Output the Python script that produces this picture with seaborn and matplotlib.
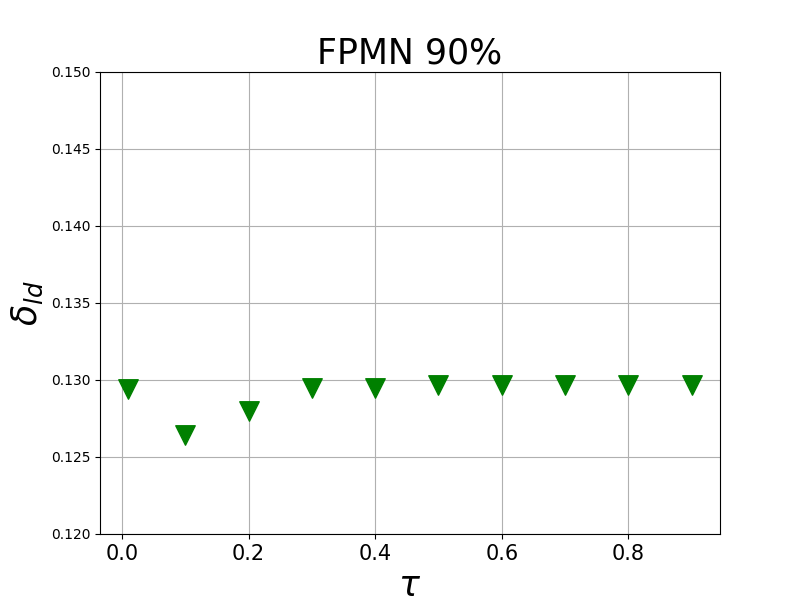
import matplotlib
matplotlib.use('Agg')
import matplotlib.pyplot as plt
import seaborn as sns
import pandas as pd

# values
tau = [0.01, 0.1, 0.2, 0.3, 0.4, 0.5, 0.6, 0.7, 0.8, 0.9]
delta_ld = [0.12942, 0.12643, 0.12799, 0.12948, 0.12948, 0.12968, 0.12968, 0.12968, 0.12968, 0.12968]

df = pd.DataFrame({'tau': tau, 'delta': delta_ld})

fig, ax = plt.subplots(figsize=(8, 6), dpi=100)
sns.scatterplot(data=df, x='tau', y='delta', marker='v', color='green',
                s=196, edgecolor='green', linewidth=1, ax=ax, zorder=3)

ax.set_ylim(0.12, 0.15)
ax.set_title('FPMN 90%', fontsize=25)
ax.set_xlabel(r'$\tau$', fontsize=25)
ax.set_ylabel(r'$\delta_{ld}$', fontsize=25)
ax.tick_params(axis='x', labelsize=15)
ax.tick_params(axis='y', labelsize=10)
ax.grid(True)
ax.set_axisbelow(True)

plt.savefig('out.png', dpi=100)
